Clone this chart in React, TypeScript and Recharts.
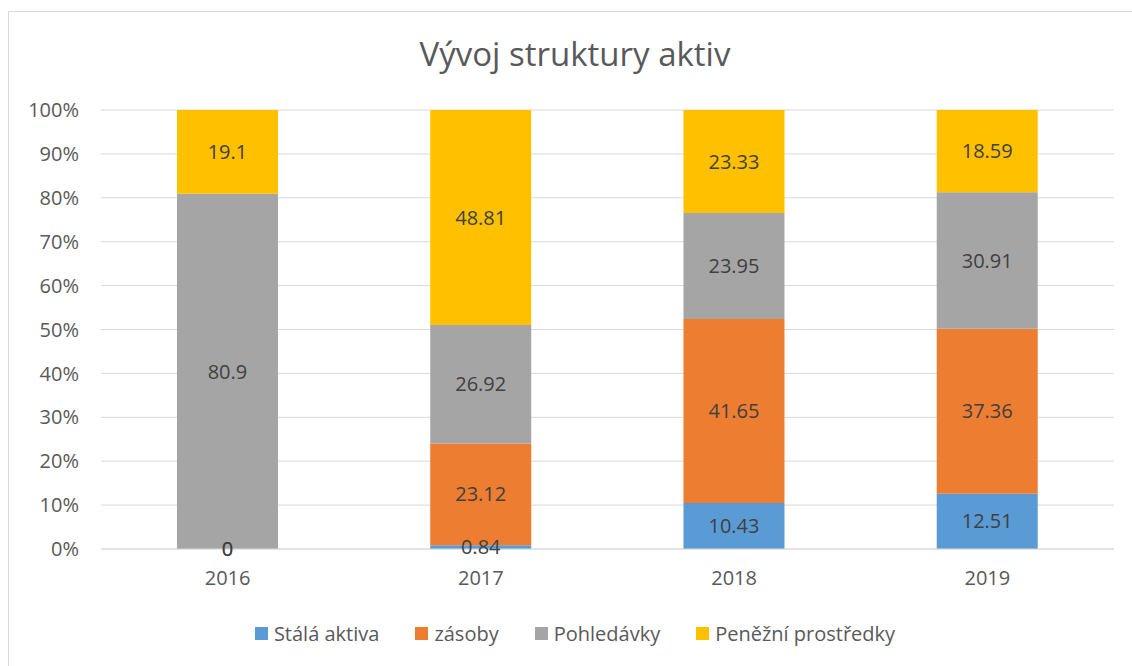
import React from 'react';
import { Bar, BarChart, CartesianGrid, LabelList, XAxis, YAxis } from 'recharts';

const years = ['2016', '2017', '2018', '2019'];
const stalaAktiva = [0, 0.84, 10.43, 12.51];
const zasoby = [0, 23.12, 41.65, 37.36];
const pohledavky = [80.9, 26.92, 23.95, 30.91];
const penezniProstredky = [19.1, 48.81, 23.33, 18.59];

const seriesKeys = ['stala', 'zasoby', 'pohledavky', 'penezni'];
const seriesNames = ['Stálá aktiva', 'zásoby', 'Pohledávky', 'Peněžní prostředky'];
const seriesColors = ['#5B9BD5', '#ED7D31', '#A5A5A5', '#FFC000'];
const percentTicks = [0, 0.1, 0.2, 0.3, 0.4, 0.5, 0.6, 0.7, 0.8, 0.9, 1];

const data = years.map((year, i) => ({
  year,
  stala: stalaAktiva[i],
  zasoby: zasoby[i],
  pohledavky: pohledavky[i],
  penezni: penezniProstredky[i],
}));

const font = '"Open Sans", sans-serif';

const App = () => {
  return (
    <div
      style={{
        position: 'absolute',
        left: 0,
        top: 0,
        width: 1132,
        height: 666,
        overflow: 'hidden',
        background: '#fff',
        fontFamily: font,
      }}
    >
      <div
        style={{
          position: 'absolute',
          left: 8,
          top: 11,
          width: 1200,
          height: 700,
          border: '1px solid #d9d9d9',
        }}
      />
      <div
        style={{
          position: 'absolute',
          left: 8,
          width: 1134,
          top: 31,
          textAlign: 'center',
          fontSize: 33,
          color: '#595959',
        }}
      >
        Vývoj struktury aktiv
      </div>
      <div style={{ position: 'absolute', left: 0, top: 0 }}>
        <BarChart
          width={1132}
          height={666}
          data={data}
          stackOffset="expand"
          barCategoryGap="30%"
          margin={{ top: 110, right: 18, left: 1, bottom: 77 }}
        >
          <CartesianGrid vertical={false} stroke="#d9d9d9" />
          <XAxis
            dataKey="year"
            height={40}
            axisLine={{ stroke: '#d9d9d9' }}
            tickLine={false}
            tickMargin={16}
            tick={{ fill: '#595959', fontSize: 20, fontFamily: font }}
          />
          <YAxis
            width={100}
            domain={[0, 1]}
            ticks={percentTicks}
            tickFormatter={(v) => `${Math.round(v * 100)}%`}
            axisLine={false}
            tickLine={false}
            tickMargin={16}
            tick={{ fill: '#595959', fontSize: 20, fontFamily: font }}
          />
          {seriesKeys.map((key, i) => (
            <Bar
              key={key}
              dataKey={key}
              name={seriesNames[i]}
              stackId="a"
              fill={seriesColors[i]}
              minPointSize={0.01}
              isAnimationActive={false}
            >
              <LabelList
                dataKey={key}
                position="center"
                fill="#404040"
                fontSize={20}
                fontFamily={font}
                formatter={(v: number) => String(v)}
              />
            </Bar>
          ))}
        </BarChart>
      </div>
      <div
        style={{
          position: 'absolute',
          left: 8,
          width: 1134,
          top: 620,
          display: 'flex',
          justifyContent: 'center',
          alignItems: 'center',
          gap: 36,
          fontSize: 20,
          color: '#595959',
        }}
      >
        {seriesNames.map((name, i) => (
          <div key={name} style={{ display: 'flex', alignItems: 'center', gap: 6 }}>
            <span style={{ width: 13, height: 13, background: seriesColors[i], display: 'inline-block' }} />
            <span>{name}</span>
          </div>
        ))}
      </div>
    </div>
  );
};

export default App;
